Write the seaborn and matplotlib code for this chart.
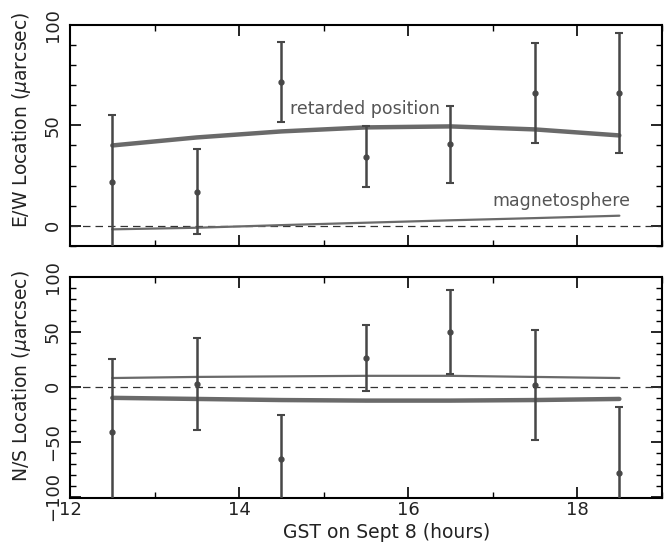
import numpy as np
import pandas as pd
import matplotlib
matplotlib.use("Agg")
import matplotlib.pyplot as plt
import seaborn as sns

sns.set_theme(style="ticks")
plt.rcParams['font.family'] = ['DejaVu Sans']

# observation times (GST hours)
gst = [12.5, 13.5, 14.5, 15.5, 16.5, 17.5, 18.5]

# E/W measurements and models
ew_obs = [22, 17, 71.5, 34.5, 40.5, 66, 66]
ew_err = [33, 21, 20, 15, 19, 25, 30]
ew_retarded = [40, 44, 47, 49, 49.5, 48, 45]
ew_magneto = [-1.8, -1, 0.3, 1.5, 2.7, 3.8, 5]

# N/S measurements and models
ns_obs = [-41, 2.5, -66, 26, 50, 2, -78]
ns_err = [66, 42, 40, 30, 38, 50, 60]
ns_retarded = [-10, -11, -12, -12.5, -12.5, -12, -11]
ns_magneto = [8, 9, 9.5, 10, 10, 9, 8]

df = pd.DataFrame({'gst': gst,
                   'ew_ret': ew_retarded, 'ew_mag': ew_magneto,
                   'ns_ret': ns_retarded, 'ns_mag': ns_magneto})

line_c = '#6a6a6a'
err_c = '#474747'
txt_c = '#222222'

fig = plt.figure(figsize=(6.7, 5.45), dpi=100)
ax1 = fig.add_axes([0.1045, 0.549, 0.883, 0.405])
ax2 = fig.add_axes([0.1045, 0.0862, 0.883, 0.406])


def style_axis(ax, ylim, ylabel, label_y):
    ax.set_xlim(12, 19)
    ax.axhline(0, color='#333333', lw=0.9, ls=(0, (6, 4)), zorder=1)
    ax.set_xticks([12, 14, 16, 18])
    ax.set_xticks(np.arange(12, 19.1, 1), minor=True)
    ax.set_yticks(np.arange(-100, 101, 50))
    ax.set_yticks(np.arange(-100, 101, 10), minor=True)
    ax.set_ylim(*ylim)
    ax.tick_params(which='both', direction='in', top=True, right=True,
                   color='black', labelsize=13, labelcolor=txt_c)
    ax.tick_params(which='major', length=8, width=1.2, pad=6)
    ax.tick_params(axis='x', which='major', pad=2)
    ax.tick_params(which='minor', length=4, width=1.0)
    for lbl in ax.get_yticklabels():
        lbl.set_rotation(90)
        lbl.set_va('center')
    for s in ax.spines.values():
        s.set_linewidth(1.5)
        s.set_color('black')
    ax.set_ylabel(ylabel, fontsize=13.5, color=txt_c)
    ax.yaxis.set_label_coords(-0.0625, label_y)


# top panel: E/W
sns.lineplot(data=df, x='gst', y='ew_ret', ax=ax1, color=line_c, lw=3.2, zorder=3)
sns.lineplot(data=df, x='gst', y='ew_mag', ax=ax1, color=line_c, lw=1.6, zorder=3)
ax1.errorbar(gst, ew_obs, yerr=ew_err, fmt='o', ms=3.5, color=err_c,
             ecolor=err_c, elinewidth=1.8, capsize=3, capthick=1.5, zorder=4)
style_axis(ax1, (-10, 100), 'E/W Location ($\\mu$arcsec)', 0.57)
ax1.set_xlabel('')
ax1.tick_params(labelbottom=False)
ax1.text(14.6, 58, 'retarded position', fontsize=12.5, color='#555555',
         ha='left', va='center')
ax1.text(17.0, 12.5, 'magnetosphere', fontsize=12.5, color='#555555',
         ha='left', va='center')

# bottom panel: N/S
sns.lineplot(data=df, x='gst', y='ns_ret', ax=ax2, color=line_c, lw=3.2, zorder=3)
sns.lineplot(data=df, x='gst', y='ns_mag', ax=ax2, color=line_c, lw=1.6, zorder=3)
ax2.errorbar(gst, ns_obs, yerr=ns_err, fmt='o', ms=3.5, color=err_c,
             ecolor=err_c, elinewidth=1.8, capsize=3, capthick=1.5, zorder=4)
style_axis(ax2, (-101, 100), 'N/S Location ($\\mu$arcsec)', 0.552)
ax2.set_xlabel('GST on Sept 8 (hours)', fontsize=13.5, color=txt_c)
ax2.xaxis.set_label_coords(0.535, -0.112)

fig.savefig('out.png', dpi=100)
